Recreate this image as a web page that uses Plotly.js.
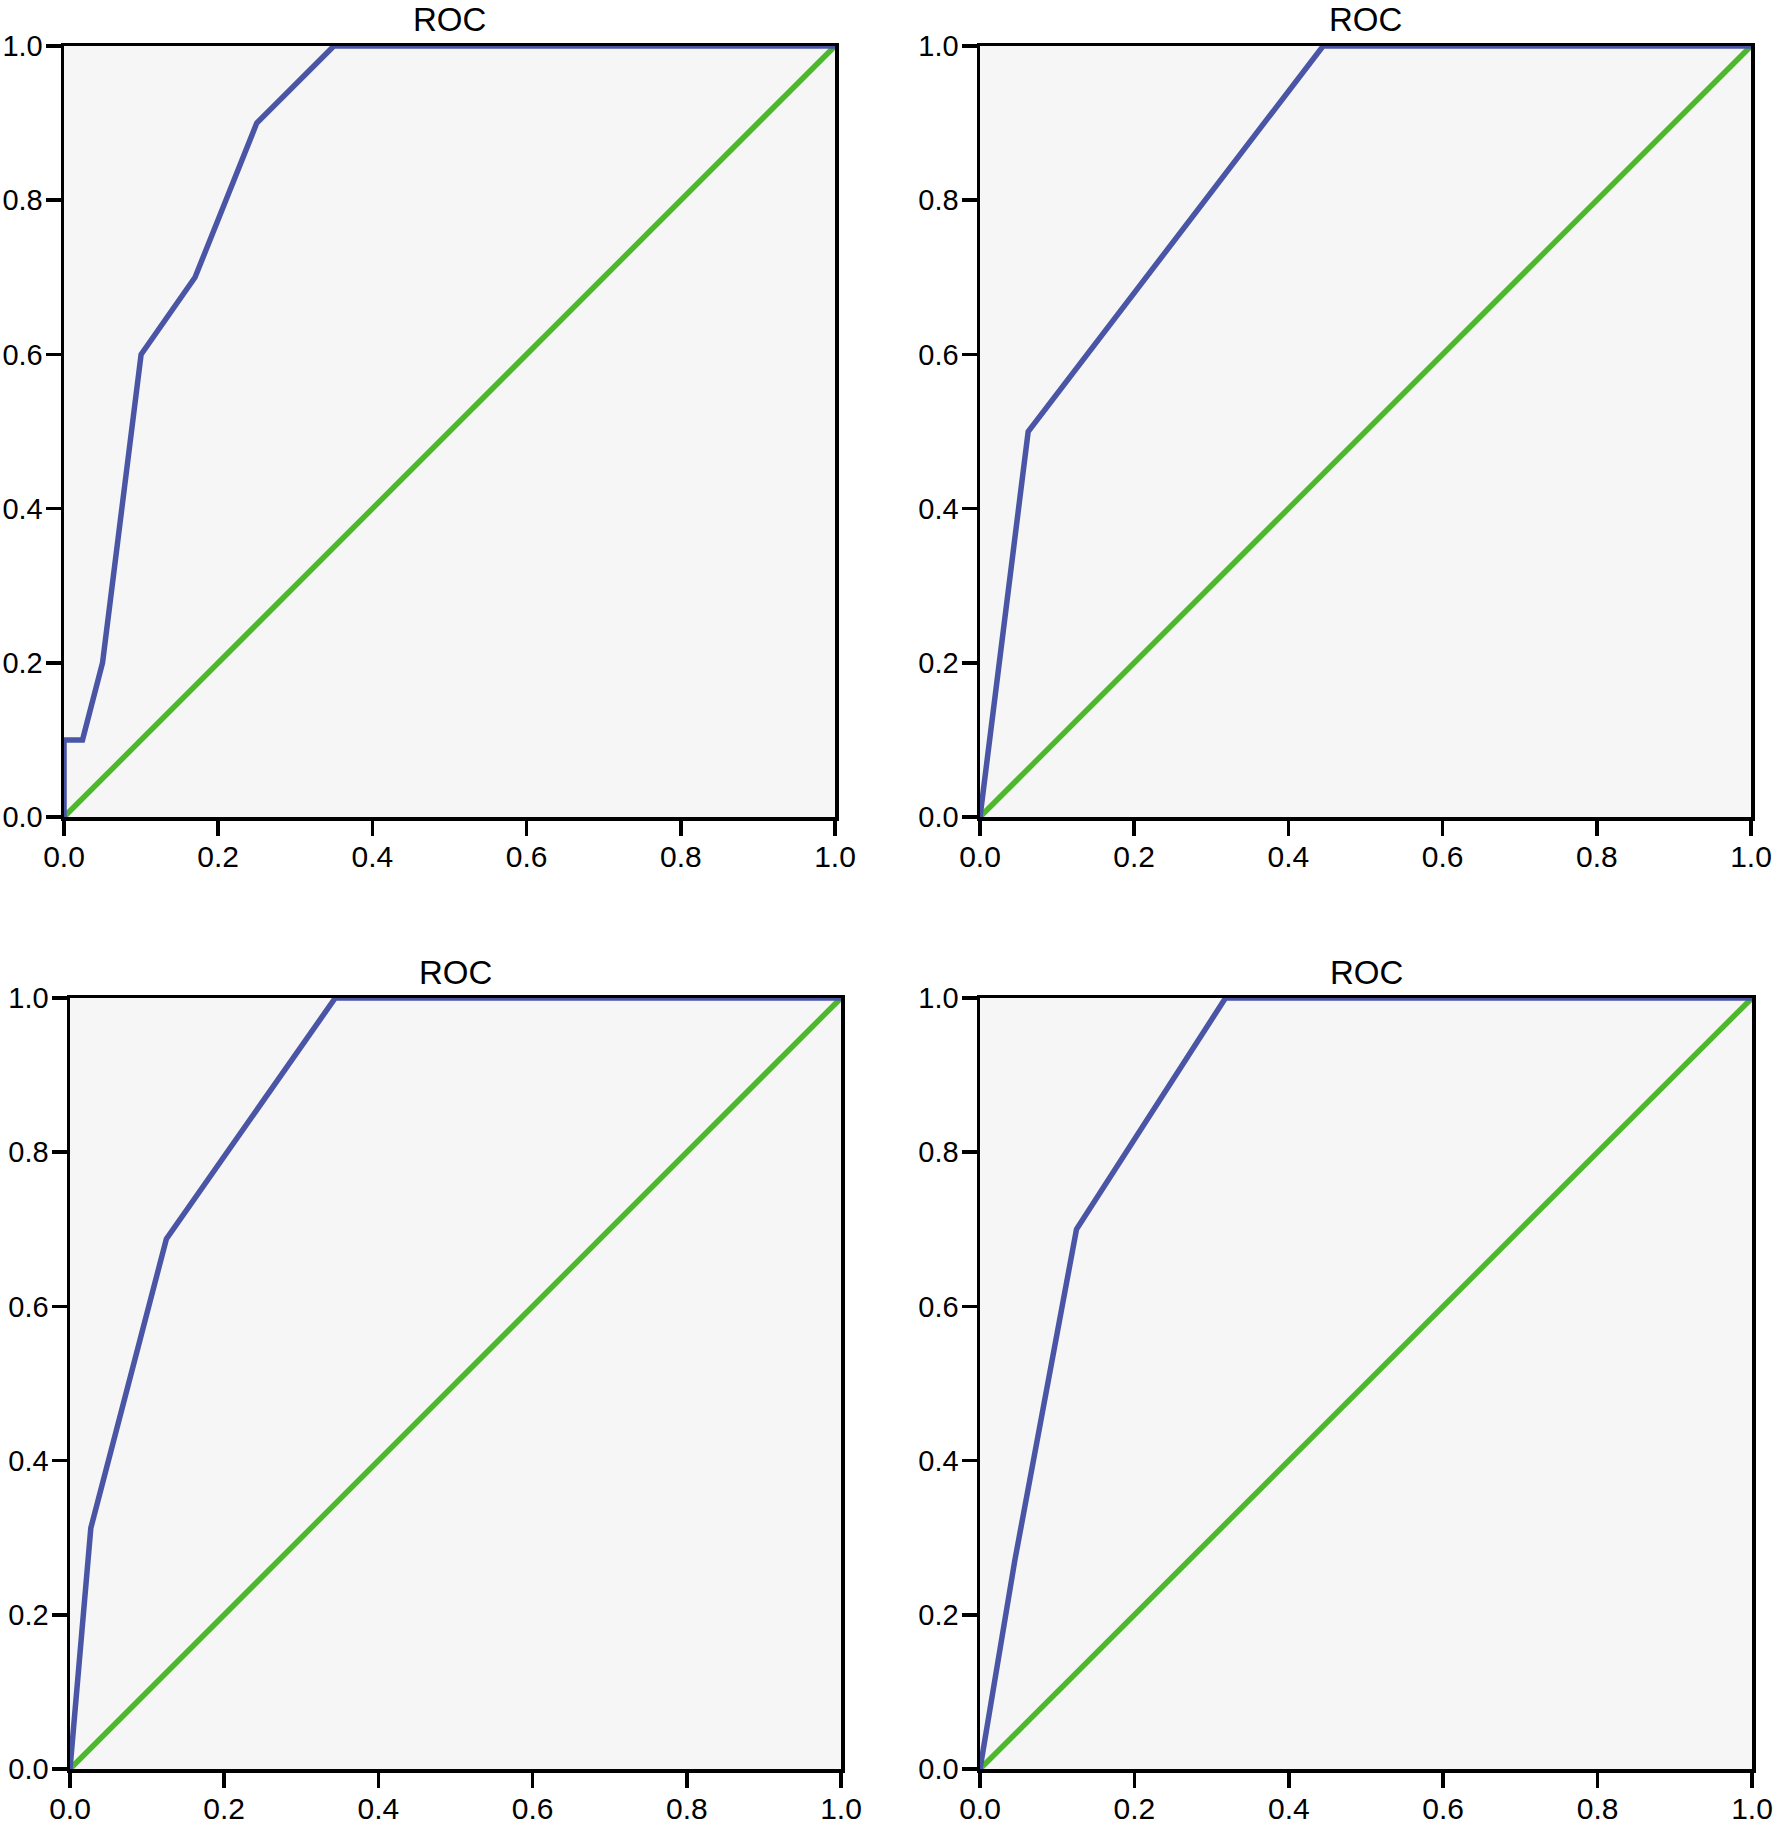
<!DOCTYPE html>
<html>
<head>
<meta charset="utf-8">
<script src="https://cdn.plot.ly/plotly-3.0.1.min.js"></script>
<style>html,body{margin:0;padding:0;background:#fff;}#chart{width:1776px;height:1824px;}</style>
</head>
<body>
<div id="chart"></div>
<script>
// ---- data ----
var panelTitles = ["ROC", "ROC", "ROC", "ROC"];
var tickVals = [0, 0.2, 0.4, 0.6, 0.8, 1.0];
var tickText = ["0.0", "0.2", "0.4", "0.6", "0.8", "1.0"];

var roc1Fpr = [0, 0, 0.024, 0.05, 0.10, 0.17, 0.21, 0.25, 0.35, 1.0];
var roc1Tpr = [0, 0.1, 0.1, 0.2, 0.6, 0.7, 0.8, 0.9, 1.0, 1.0];

var roc2Fpr = [0, 0.0625, 0.445, 1.0];
var roc2Tpr = [0, 0.5, 1.0, 1.0];

var roc3Fpr = [0, 0.027, 0.125, 0.344, 1.0];
var roc3Tpr = [0, 0.3125, 0.6875, 1.0, 1.0];

var roc4Fpr = [0, 0.045, 0.125, 0.318, 1.0];
var roc4Tpr = [0, 0.27, 0.7, 1.0, 1.0];

var refLine = [0, 1];

// ---- layout geometry (pixels) ----
var W = 1776, H = 1824;
var panels = [
  {l: 64,  r: 835,  t: 46,  b: 817},
  {l: 980, r: 1751, t: 46,  b: 817},
  {l: 70,  r: 841,  t: 998, b: 1769},
  {l: 980, r: 1752, t: 998, b: 1769}
];
var curves = [[roc1Fpr, roc1Tpr], [roc2Fpr, roc2Tpr], [roc3Fpr, roc3Tpr], [roc4Fpr, roc4Tpr]];

var blue = "#4a55a6", green = "#4db82c";
var font = "Liberation Sans, Arial, sans-serif";

var data = [];
var layout = {
  width: W, height: H,
  margin: {l: 0, r: 0, t: 0, b: 0},
  paper_bgcolor: "#ffffff",
  plot_bgcolor: "#f5f6f5",
  showlegend: false,
  font: {family: font, size: 30, color: "#000"},
  annotations: []
};

panels.forEach(function (p, i) {
  var n = i + 1;
  var xa = "x" + (n === 1 ? "" : n), ya = "y" + (n === 1 ? "" : n);
  data.push({x: refLine, y: refLine, xaxis: xa, yaxis: ya, mode: "lines",
             line: {color: green, width: 5.5}, hoverinfo: "skip"});
  data.push({x: curves[i][0], y: curves[i][1], xaxis: xa, yaxis: ya, mode: "lines",
             line: {color: blue, width: 5.5}, hoverinfo: "skip"});
  var axBase = {
    range: [0, 1], showgrid: false, zeroline: false, fixedrange: true,
    showline: true, linecolor: "#000", linewidth: 3.5, mirror: true,
    ticks: "outside", ticklen: 15, tickwidth: 3.5, tickcolor: "#000",
    tickvals: tickVals, ticktext: tickText
  };
  var xk = "xaxis" + (n === 1 ? "" : n), yk = "yaxis" + (n === 1 ? "" : n);
  layout[xk] = Object.assign({}, axBase, {
    domain: [p.l / W, p.r / W], anchor: ya, ticklabelstandoff: -5,
    tickfont: {family: font, size: 30, color: "#000"}
  });
  layout[yk] = Object.assign({}, axBase, {
    domain: [(H - p.b) / H, (H - p.t) / H], anchor: xa, ticklabelstandoff: -3,
    tickfont: {family: font, size: 29, color: "#000"}
  });
  layout.annotations.push({
    text: panelTitles[i], showarrow: false,
    xref: "paper", yref: "paper",
    x: (p.l + p.r) / 2 / W, y: (H - (p.t - 26)) / H,
    xanchor: "center", yanchor: "middle",
    font: {family: font, size: 33, color: "#000"}
  });
});

Plotly.newPlot("chart", data, layout, {staticPlot: true, displayModeBar: false});
</script>
</body>
</html>
